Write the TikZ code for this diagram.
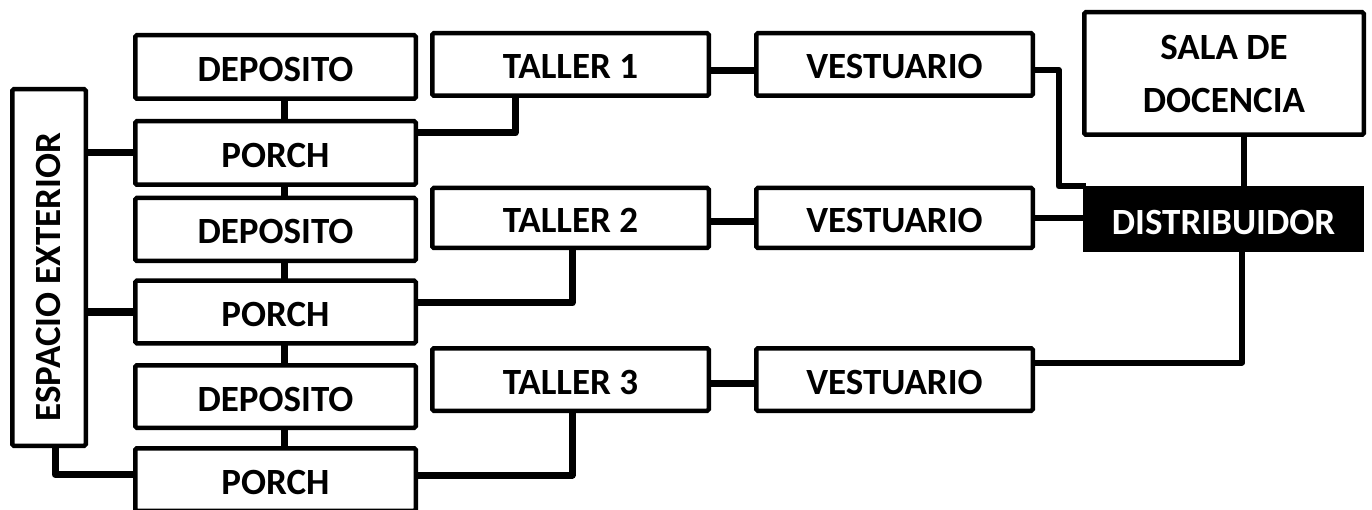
\documentclass[tikz,border=0pt]{standalone}
\usepackage{fontspec}
\setmainfont{Carlito}
\begin{document}
\begin{tikzpicture}[x=1pt,y=-1pt,
  boxbase/.style={draw=black, line width=4.5pt, fill=white, rounded corners=1.5pt, inner sep=0pt,
    align=center, font=\fontsize{37}{53}\selectfont\bfseries},
  box/.style={boxbase, text height=29pt, text depth=0pt},
  dark/.style={fill=black, text=white, inner sep=0pt, align=center,
    text height=31pt, text depth=0pt,
    font=\fontsize{37}{53}\selectfont\bfseries},
  conn/.style={line width=7pt, line cap=rect, line join=round},
  thin/.style={line width=6pt, line cap=rect, line join=round}]
\useasboundingbox (0,0) rectangle (1372,510);
% left column
\node[boxbase, minimum width=73.5pt, minimum height=356.5pt] (esp) at (49,267.5) {};
\node[rotate=90, font=\fontsize{37}{44}\selectfont\bfseries] (esptext) at (48,277) {ESPACIO EXTERIOR};
\node[box, minimum width=280.5pt, minimum height=63.5pt] (dep1) at (275.5,67) {DEPOSITO};
\node[box, minimum width=280.5pt, minimum height=63.5pt] (por1) at (275.5,153) {PORCH};
\node[box, minimum width=280.5pt, minimum height=63pt] (dep2) at (275.5,229.5) {DEPOSITO};
\node[box, minimum width=280.5pt, minimum height=62.5pt] (por2) at (275.5,312) {PORCH};
\node[box, minimum width=280.5pt, minimum height=62.5pt] (dep3) at (275.5,396.5) {DEPOSITO};
\node[box, minimum width=280.5pt, minimum height=62.5pt] (por3) at (275.5,479.5) {PORCH};
% talleres
\node[box, minimum width=276.5pt, minimum height=62.5pt] (tal1) at (570.5,64.5) {TALLER 1};
\node[box, minimum width=276.5pt, minimum height=60pt] (tal2) at (570.5,218) {TALLER 2};
\node[box, minimum width=276.5pt, minimum height=62.5pt] (tal3) at (570.5,379.5) {TALLER 3};
% vestuarios
\node[box, minimum width=276.5pt, minimum height=62.5pt] (ves1) at (894.5,64.5) {VESTUARIO};
\node[box, minimum width=276.5pt, minimum height=60pt] (ves2) at (894.5,218) {VESTUARIO};
\node[box, minimum width=276.5pt, minimum height=62.5pt] (ves3) at (894.5,379.5) {VESTUARIO};
% right
\node[dark, minimum width=281pt, minimum height=66pt] (dist) at (1223.5,219) {DISTRIBUIDOR};
\node[boxbase, minimum width=279.5pt, minimum height=122.5pt] (sala) at (1224,73.5) {SALA DE\\DOCENCIA};
% deposito-porch chain
\draw[conn] ([xshift=8.5pt]dep1.south) -- ([xshift=8.5pt]por1.north);
\draw[conn] ([xshift=8.5pt]por1.south) -- ([xshift=8.5pt]dep2.north);
\draw[conn] ([xshift=8.5pt]dep2.south) -- ([xshift=8.5pt]por2.north);
\draw[conn] ([xshift=8.5pt]por2.south) -- ([xshift=8.5pt]dep3.north);
\draw[conn] ([xshift=8.5pt]dep3.south) -- ([xshift=8.5pt]por3.north);
% espacio - porch
\draw[conn] (esp.east |- por1.west) -- (por1.west);
\draw[conn] (esp.east |- por2.west) -- (por2.west);
\draw[conn] ([xshift=6pt]esp.south) |- ([yshift=5pt]por3.west);
% porch - taller
\draw[conn] ([yshift=20pt]por1.east) -| ([xshift=-55.5pt]tal1.south);
\draw[conn] ([yshift=9pt]por2.east) -| ([xshift=1.5pt]tal2.south);
\draw[conn] ([yshift=4.5pt]por3.east) -| ([xshift=1.5pt]tal3.south);
% taller - vestuario
\draw[conn] ([yshift=-6pt]tal1.east) -- ([yshift=-6pt]ves1.west);
\draw[conn] ([yshift=-4pt]tal2.east) -- ([yshift=-4pt]ves2.west);
\draw[conn] ([yshift=-3.5pt]tal3.east) -- ([yshift=-3.5pt]ves3.west);
% vestuario - distribuidor
\draw[thin] ([yshift=-5.5pt]ves1.east) -| ([xshift=-24pt,yshift=-0.5pt]dist.north west) -- ([yshift=-0.5pt]dist.north west);
\draw[thin] (ves2.east) -- (ves2.east -| dist.west);
\draw[thin] ([xshift=20pt]sala.south) -- ([xshift=20pt]sala.south |- dist.north);
\draw[thin] ([xshift=18.5pt]dist.south) |- ([yshift=17pt]ves3.east);
\end{tikzpicture}
\end{document}
